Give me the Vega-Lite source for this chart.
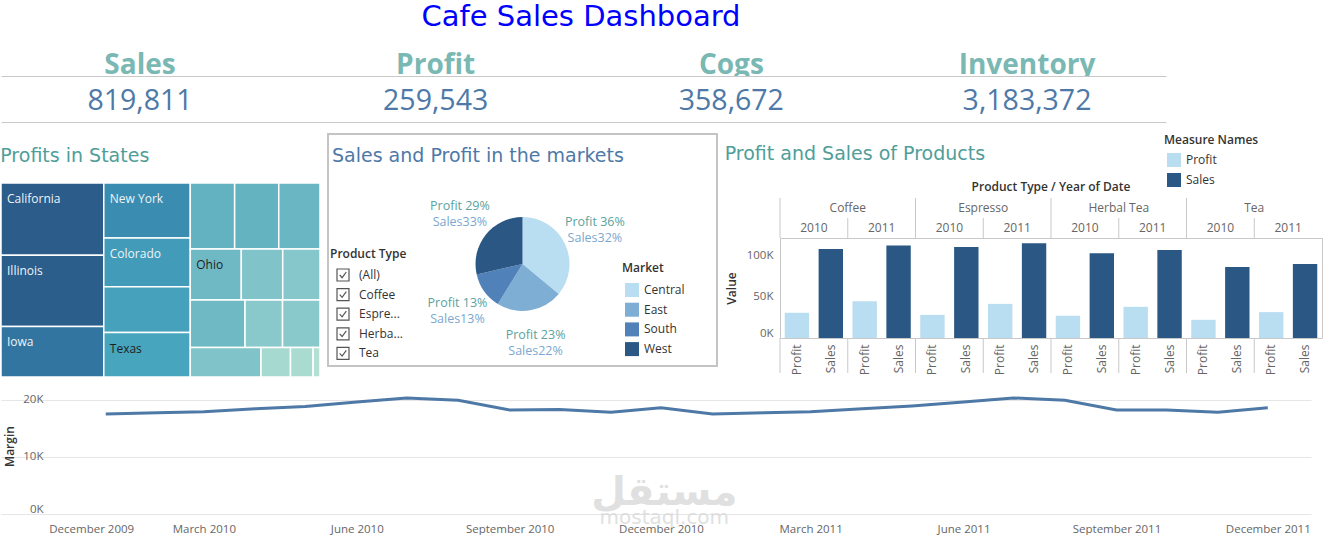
{
  "$schema": "https://vega.github.io/schema/vega-lite/v6.json",
  "padding": 0,
  "background": "white",
  "spacing": 0,
  "align": "none",
  "config": {
    "font": "Open Sans",
    "view": {"stroke": null},
    "axis": {"labelFont": "Open Sans", "titleFont": "Open Sans", "labelColor": "#666666", "titleColor": "#333333", "labelFontSize": 11.5, "titleFontSize": 12, "titleFontWeight": 600, "grid": false, "domain": false, "ticks": false, "tickColor": "#c8c8c8", "domainColor": "#c8c8c8"},
    "legend": {"labelFont": "Open Sans", "titleFont": "Open Sans", "labelFontSize": 12, "titleFontSize": 12, "labelColor": "#333333", "titleColor": "#333333", "titleFontWeight": 600, "padding": 0},
    "title": {"font": "DejaVu Sans", "fontWeight": "normal", "fontSize": 19}
  },
  "datasets": {
    "kpi": [
      {"kpi": "Sales", "value": 819811},
      {"kpi": "Profit", "value": 259543},
      {"kpi": "Cogs", "value": 358672},
      {"kpi": "Inventory", "value": 3183372}
    ],
    "states": [
      {"state": "California", "profit": 31145, "grp": 1, "blk": "California"},
      {"state": "Illinois", "profit": 30626, "grp": 1, "blk": "Illinois"},
      {"state": "Iowa", "profit": 21802, "grp": 1, "blk": "Iowa"},
      {"state": "New York", "profit": 19985, "grp": 2, "blk": "New York"},
      {"state": "Colorado", "profit": 17649, "grp": 2, "blk": "Colorado"},
      {"state": "Nevada", "profit": 16611, "grp": 2, "blk": "Nevada"},
      {"state": "Texas", "profit": 16092, "grp": 2, "blk": "Texas"},
      {"state": "Washington", "profit": 12276, "grp": 3, "blk": "A"},
      {"state": "Oregon", "profit": 12198, "grp": 3, "blk": "A"},
      {"state": "Florida", "profit": 11420, "grp": 3, "blk": "A"},
      {"state": "Ohio", "profit": 10901, "grp": 3, "blk": "B"},
      {"state": "Connecticut", "profit": 8850, "grp": 3, "blk": "B"},
      {"state": "Missouri", "profit": 7968, "grp": 3, "blk": "B"},
      {"state": "Massachusetts", "profit": 10875, "grp": 3, "blk": "C"},
      {"state": "Wisconsin", "profit": 7448, "grp": 3, "blk": "C"},
      {"state": "Oklahoma", "profit": 7440, "grp": 3, "blk": "C"},
      {"state": "Utah", "profit": 8772, "grp": 3, "blk": "D"},
      {"state": "Louisiana", "profit": 3660, "grp": 3, "blk": "D"},
      {"state": "New Mexico", "profit": 2803, "grp": 3, "blk": "D"},
      {"state": "New Hampshire", "profit": 857, "grp": 3, "blk": "D"}
    ],
    "market": [
      {"market": "Central", "profit": 93400, "sales": 265045},
      {"market": "East", "profit": 59200, "sales": 178576},
      {"market": "South", "profit": 32743, "sales": 103926},
      {"market": "West", "profit": 74200, "sales": 272264}
    ],
    "ptypes": [
      {"item": "(All)"}, {"item": "Coffee"}, {"item": "Espre..."}, {"item": "Herba..."}, {"item": "Tea"}
    ],
    "bars": [
      {"product": "Coffee", "year": "2010", "measure": "Profit", "value": 30500},
      {"product": "Coffee", "year": "2010", "measure": "Sales", "value": 107600},
      {"product": "Coffee", "year": "2011", "measure": "Profit", "value": 44600},
      {"product": "Coffee", "year": "2011", "measure": "Sales", "value": 112000},
      {"product": "Espresso", "year": "2010", "measure": "Profit", "value": 28000},
      {"product": "Espresso", "year": "2010", "measure": "Sales", "value": 110000},
      {"product": "Espresso", "year": "2011", "measure": "Profit", "value": 41300},
      {"product": "Espresso", "year": "2011", "measure": "Sales", "value": 114500},
      {"product": "Herbal Tea", "year": "2010", "measure": "Profit", "value": 26900},
      {"product": "Herbal Tea", "year": "2010", "measure": "Sales", "value": 102400},
      {"product": "Herbal Tea", "year": "2011", "measure": "Profit", "value": 37700},
      {"product": "Herbal Tea", "year": "2011", "measure": "Sales", "value": 106400},
      {"product": "Tea", "year": "2010", "measure": "Profit", "value": 22000},
      {"product": "Tea", "year": "2010", "measure": "Sales", "value": 85900},
      {"product": "Tea", "year": "2011", "measure": "Profit", "value": 31300},
      {"product": "Tea", "year": "2011", "measure": "Sales", "value": 89500}
    ],
    "margin": [
      {"month": "2010-01-01", "margin": 17500}, {"month": "2010-02-01", "margin": 17700},
      {"month": "2010-03-01", "margin": 17900}, {"month": "2010-04-01", "margin": 18400},
      {"month": "2010-05-01", "margin": 18800}, {"month": "2010-06-01", "margin": 19600},
      {"month": "2010-07-01", "margin": 20300}, {"month": "2010-08-01", "margin": 19900},
      {"month": "2010-09-01", "margin": 18200}, {"month": "2010-10-01", "margin": 18300},
      {"month": "2010-11-01", "margin": 17800}, {"month": "2010-12-01", "margin": 18600},
      {"month": "2011-01-01", "margin": 17500}, {"month": "2011-02-01", "margin": 17700},
      {"month": "2011-03-01", "margin": 17900}, {"month": "2011-04-01", "margin": 18400},
      {"month": "2011-05-01", "margin": 18900}, {"month": "2011-06-01", "margin": 19600},
      {"month": "2011-07-01", "margin": 20300}, {"month": "2011-08-01", "margin": 19900},
      {"month": "2011-09-01", "margin": 18200}, {"month": "2011-10-01", "margin": 18200},
      {"month": "2011-11-01", "margin": 17800}, {"month": "2011-12-01", "margin": 18600}
    ]
  },
  "resolve": {"scale": {"color": "independent", "shape": "independent"}, "legend": {"color": "independent"}},
  "vconcat": [
    {
      "width": 1160, "height": 34,
      "data": {"values": [{"t": "Cafe Sales Dashboard"}]},
      "mark": {"type": "text", "font": "DejaVu Sans", "fontSize": 29, "color": "#0000ff"},
      "encoding": {"text": {"field": "t"}}
    },
    {
      "width": 1165, "height": 42,
      "data": {"name": "kpi"},
      "mark": {"type": "text", "font": "Open Sans", "fontSize": 28, "fontWeight": "bold", "color": "#79b8b3", "dy": 11, "clip": true},
      "encoding": {
        "x": {"field": "kpi", "type": "nominal", "sort": null, "scale": {"type": "point", "padding": 0.47}, "axis": {"title": null, "labels": false, "ticks": false, "domain": true, "domainColor": "#c8c8c8"}},
        "text": {"field": "kpi"}
      }
    },
    {
      "width": 1165, "height": 57,
      "data": {"name": "kpi"},
      "mark": {"type": "text", "font": "Open Sans", "fontSize": 28.5, "color": "#4e79a7", "dy": -3.5},
      "encoding": {
        "x": {"field": "kpi", "type": "nominal", "sort": null, "scale": {"type": "point", "padding": 0.47}, "axis": {"title": null, "labels": false, "ticks": false, "domain": true, "domainColor": "#c8c8c8", "offset": -11}},
        "text": {"field": "value", "type": "quantitative", "format": ","}
      }
    },
    {
      "spacing": 6,
      "align": "none",
      "resolve": {"scale": {"color": "independent", "shape": "independent"}, "legend": {"color": "independent"}},
      "hconcat": [
        {
          "width": 319, "height": 243,
          "title": {"text": "Profits in States", "anchor": "start", "offset": -32, "color": "#4f9e9a", "fontSize": 19, "font": "DejaVu Sans"},
          "data": {"name": "states"},
          "transform": [
            {"joinaggregate": [{"op": "sum", "field": "profit", "as": "total"}]},
            {"joinaggregate": [{"op": "sum", "field": "profit", "as": "gTot"}], "groupby": ["grp"]},
            {"joinaggregate": [{"op": "sum", "field": "profit", "as": "bTot"}], "groupby": ["grp", "blk"]},
            {"stack": "profit", "groupby": [], "sort": [{"field": "grp", "order": "ascending"}], "as": ["g0", "g1"]},
            {"joinaggregate": [{"op": "min", "field": "g0", "as": "gStart"}], "groupby": ["grp"]},
            {"stack": "profit", "groupby": ["grp"], "sort": [{"field": "bTot", "order": "descending"}, {"field": "blk", "order": "ascending"}], "as": ["b0", "b1"]},
            {"joinaggregate": [{"op": "min", "field": "b0", "as": "bStart"}], "groupby": ["grp", "blk"]},
            {"stack": "profit", "groupby": ["grp", "blk"], "sort": [{"field": "profit", "order": "descending"}], "as": ["c0", "c1"]},
            {"calculate": "100 * (datum.gStart + datum.gTot * datum.c0 / datum.bTot) / datum.total", "as": "x0"},
            {"calculate": "100 * (datum.gStart + datum.gTot * datum.c1 / datum.bTot) / datum.total", "as": "x1"},
            {"calculate": "100 * datum.bStart / datum.gTot", "as": "y0"},
            {"calculate": "100 * (datum.bStart + datum.bTot) / datum.gTot", "as": "y1"}
          ],
          "layer": [
            {
              "mark": {"type": "rect", "stroke": "white", "strokeWidth": 1.5},
              "encoding": {
                "x": {"field": "x0", "type": "quantitative", "scale": {"domain": [0, 100], "nice": false}, "axis": null},
                "x2": {"field": "x1"},
                "y": {"field": "y0", "type": "quantitative", "scale": {"domain": [-25.26, 100], "nice": false, "zero": false, "reverse": true}, "axis": null},
                "y2": {"field": "y1"},
                "color": {"field": "profit", "type": "quantitative", "legend": null,
                  "scale": {"domain": [850, 3600, 8800, 12300, 16100, 19985, 21800, 31200], "range": ["#b3e0d3", "#a6d9cf", "#80c4ca", "#63b2c1", "#48a5be", "#3a8cb0", "#3175a0", "#2b5c8a"], "interpolate": "rgb"}}
              }
            },
            {
              "transform": [{"filter": "indexof(['California','Illinois','Iowa','New York','Colorado','Texas','Ohio'], datum.state) >= 0"}],
              "mark": {"type": "text", "align": "left", "baseline": "middle", "dx": 6, "dy": 16, "fontSize": 12, "font": "Open Sans"},
              "encoding": {
                "x": {"field": "x0", "type": "quantitative"},
                "y": {"field": "y0", "type": "quantitative"},
                "text": {"field": "state"},
                "color": {"condition": {"test": "datum.profit > 17000", "value": "#eef3f8"}, "value": "#1f1f1f"}
              }
            }
          ]
        },
        {
          "width": 389, "height": 232,
          "view": {"stroke": "#c4c4c4", "strokeWidth": 2},
          "title": {"text": "Sales and Profit in the markets", "anchor": "start", "offset": -32, "dx": 4, "color": "#4e79a7", "fontSize": 19, "font": "DejaVu Sans"},
          "layer": [
            {
              "data": {"name": "market"},
              "mark": {"type": "arc", "outerRadius": 47, "yOffset": 14},
              "encoding": {
                "theta": {"field": "profit", "type": "quantitative", "stack": true},
                "order": {"field": "market", "type": "nominal", "sort": "ascending"},
                "color": {"field": "market", "type": "nominal",
                  "scale": {"domain": ["Central", "East", "South", "West"], "range": ["#b9ddf1", "#7eaed3", "#5081b9", "#2a5783"]},
                  "legend": {"title": "Market", "orient": "none", "legendX": 294, "legendY": 129, "symbolType": "square", "symbolSize": 196, "symbolStrokeWidth": 0, "rowPadding": 5.7, "titlePadding": 8, "labelOffset": 5, "symbolOffset": 3}}
              }
            },
            {
              "data": {"name": "market"},
              "transform": [
                {"joinaggregate": [{"op": "sum", "field": "profit", "as": "tp"}]},
                {"calculate": "'Profit ' + round(100 * datum.profit / datum.tp) + '%'", "as": "pl"}
              ],
              "mark": {"type": "text", "radius": 80, "yOffset": 14, "dy": -8, "fontSize": 12.5, "font": "Open Sans", "color": "#5aa39e"},
              "encoding": {
                "theta": {"field": "profit", "type": "quantitative", "stack": true},
                "order": {"field": "market", "type": "nominal", "sort": "ascending"},
                "text": {"field": "pl"}
              }
            },
            {
              "data": {"name": "market"},
              "transform": [
                {"joinaggregate": [{"op": "sum", "field": "sales", "as": "ts"}]},
                {"calculate": "'Sales' + round(100 * datum.sales / datum.ts) + '%'", "as": "sl"}
              ],
              "mark": {"type": "text", "radius": 80, "yOffset": 14, "dy": 8, "fontSize": 12.5, "font": "Open Sans", "color": "#7ca7d0"},
              "encoding": {
                "theta": {"field": "profit", "type": "quantitative", "stack": true},
                "order": {"field": "market", "type": "nominal", "sort": "ascending"},
                "text": {"field": "sl"}
              }
            },
            {
              "data": {"name": "ptypes"},
              "mark": {"type": "point", "opacity": 0, "filled": false},
              "encoding": {
                "shape": {"field": "item", "type": "nominal", "sort": null,
                  "scale": {"range": ["M-1,-1H1V1H-1Z M-0.55,0L-0.15,0.45L0.55,-0.5"]},
                  "legend": {"title": "Product Type", "orient": "none", "legendX": 2, "legendY": 115, "symbolSize": 144, "symbolStrokeColor": "#555555", "symbolStrokeWidth": 1.2, "symbolOpacity": 1, "symbolFillColor": "white", "rowPadding": 1.6, "titlePadding": 7, "labelOffset": 9, "symbolOffset": 6}}
              }
            }
          ]
        },
        {
          "spacing": 0,
          "bounds": "flush",
          "title": {"text": "Profit and Sales of Products", "anchor": "start", "offset": -30, "color": "#4f9e9a", "fontSize": 19, "font": "DejaVu Sans"},
          "data": {"name": "bars"},
          "transform": [
            {"calculate": "datum.product + '|' + datum.year + '|' + datum.measure", "as": "key"},
            {"calculate": "datum.product + '|' + datum.year", "as": "py"}
          ],
          "vconcat": [
            {
              "width": 542, "height": 64,
              "data": {"values": [{"t": "Product Type / Year of Date"}]},
              "mark": {"type": "text", "font": "Open Sans", "fontSize": 12, "fontWeight": 600, "color": "#333333", "dy": 21},
              "encoding": {"text": {"field": "t"}}
            },
            {
              "width": 542, "height": 20,
              "transform": [{"filter": "datum.year == '2010' && datum.measure == 'Profit'"}],
              "layer": [
                {
                  "mark": {"type": "text", "fontSize": 12, "color": "#666666"},
                  "encoding": {
                    "x": {"field": "product", "type": "nominal", "sort": "ascending", "axis": null, "scale": {"type": "band", "paddingInner": 0, "paddingOuter": 0}},
                    "text": {"field": "product"}
                  }
                },
                {
                  "mark": {"type": "rule", "color": "#c8c8c8"},
                  "encoding": {"x": {"field": "product", "type": "nominal", "sort": "ascending", "bandPosition": 0}}
                }
              ]
            },
            {
              "width": 542, "height": 20,
              "transform": [{"filter": "datum.measure == 'Profit'"}],
              "layer": [
                {
                  "mark": {"type": "text", "fontSize": 12, "color": "#666666"},
                  "encoding": {
                    "x": {"field": "py", "type": "nominal", "sort": "ascending", "axis": null, "scale": {"type": "band", "paddingInner": 0, "paddingOuter": 0}},
                    "text": {"field": "year"}
                  }
                },
                {
                  "mark": {"type": "rule", "color": "#c8c8c8"},
                  "encoding": {"x": {"field": "py", "type": "nominal", "sort": "ascending", "bandPosition": 0}}
                }
              ]
            },
            {
              "width": 542, "height": 100,
              "view": {"stroke": "#c8c8c8"},
              "mark": {"type": "bar"},
              "encoding": {
                "x": {"field": "key", "type": "nominal", "sort": "ascending", "scale": {"paddingInner": 0.28, "paddingOuter": 0.14}, "axis": null},
                "y": {"field": "value", "type": "quantitative", "scale": {"domain": [0, 121000], "nice": false},
                  "axis": {"title": "Value", "values": [0, 50000, 100000], "labelExpr": "datum.value / 1000 + 'K'", "labelPadding": 7, "titlePadding": 8, "labelFlush": 5}},
                "color": {"field": "measure", "type": "nominal",
                  "scale": {"domain": ["Profit", "Sales"], "range": ["#b9ddf1", "#2a5783"]},
                  "legend": {"title": "Measure Names", "orient": "none", "legendX": 384, "legendY": 1, "symbolType": "square", "symbolSize": 196, "symbolStrokeWidth": 0, "rowPadding": 6, "titlePadding": 6, "labelOffset": 5, "symbolOffset": 3}}
              }
            },
            {
              "width": 542, "height": 35,
              "layer": [
                {
                  "mark": {"type": "text", "angle": 270, "align": "right", "baseline": "middle", "dx": 11, "fontSize": 12, "color": "#666666"},
                  "encoding": {
                    "x": {"field": "key", "type": "nominal", "sort": "ascending", "axis": null, "scale": {"type": "band", "paddingInner": 0, "paddingOuter": 0}},
                    "text": {"field": "measure"}
                  }
                },
                {
                  "transform": [{"filter": "datum.measure == 'Profit'"}],
                  "mark": {"type": "rule", "color": "#c8c8c8"},
                  "encoding": {"x": {"field": "key", "type": "nominal", "sort": "ascending", "bandPosition": 0}}
                }
              ]
            }
          ]
        }
      ]
    },
    {
      "width": 1310, "height": 136,
      "layer": [
        {
          "data": {"name": "margin"},
          "mark": {"type": "line", "color": "#4e79a7", "strokeWidth": 3},
          "encoding": {
            "x": {"field": "month", "type": "temporal",
              "scale": {"type": "utc", "domain": [{"year": 2009, "month": 10, "date": 30, "utc": true}, {"year": 2011, "month": 12, "date": 27, "utc": true}]},
              "axis": {"title": null, "format": "%B %Y", "labelPadding": 9, "labelOverlap": false,
                "labelOffset": {"condition": {"test": "datum.index == 0", "value": 37}, "value": 0},
                "values": [
                  {"year": 2009, "month": 12, "date": 1, "utc": true},
                  {"year": 2010, "month": 3, "date": 1, "utc": true},
                  {"year": 2010, "month": 6, "date": 1, "utc": true},
                  {"year": 2010, "month": 9, "date": 1, "utc": true},
                  {"year": 2010, "month": 12, "date": 1, "utc": true},
                  {"year": 2011, "month": 3, "date": 1, "utc": true},
                  {"year": 2011, "month": 6, "date": 1, "utc": true},
                  {"year": 2011, "month": 9, "date": 1, "utc": true},
                  {"year": 2011, "month": 12, "date": 1, "utc": true}
                ]}},
            "y": {"field": "margin", "type": "quantitative", "scale": {"domain": [0, 23800], "nice": false},
              "axis": {"title": "Margin", "offset": -46, "values": [0, 10000, 20000], "labelExpr": "datum.value / 1000 + 'K'", "grid": true, "gridColor": "#e6e6e6", "labelFlush": 5, "labelPadding": 4, "titlePadding": 6}}
          }
        },
        {
          "data": {"values": [{"w": "مستقل"}]},
          "mark": {"type": "text", "font": "DejaVu Sans", "fontWeight": "bold", "fontSize": 40, "color": "#d9d9d9", "opacity": 0.8},
          "encoding": {
            "x": {"datum": {"year": 2010, "month": 12, "date": 3, "utc": true}, "type": "temporal"},
            "y": {"datum": 3700, "type": "quantitative"},
            "text": {"field": "w"}
          }
        },
        {
          "data": {"values": [{"w": "mostaql.com"}]},
          "mark": {"type": "text", "font": "DejaVu Sans", "fontSize": 20, "color": "#d9d9d9", "opacity": 0.8},
          "encoding": {
            "x": {"datum": {"year": 2010, "month": 12, "date": 3, "utc": true}, "type": "temporal"},
            "y": {"datum": -700, "type": "quantitative"},
            "text": {"field": "w"}
          }
        }
      ]
    }
  ]
}
